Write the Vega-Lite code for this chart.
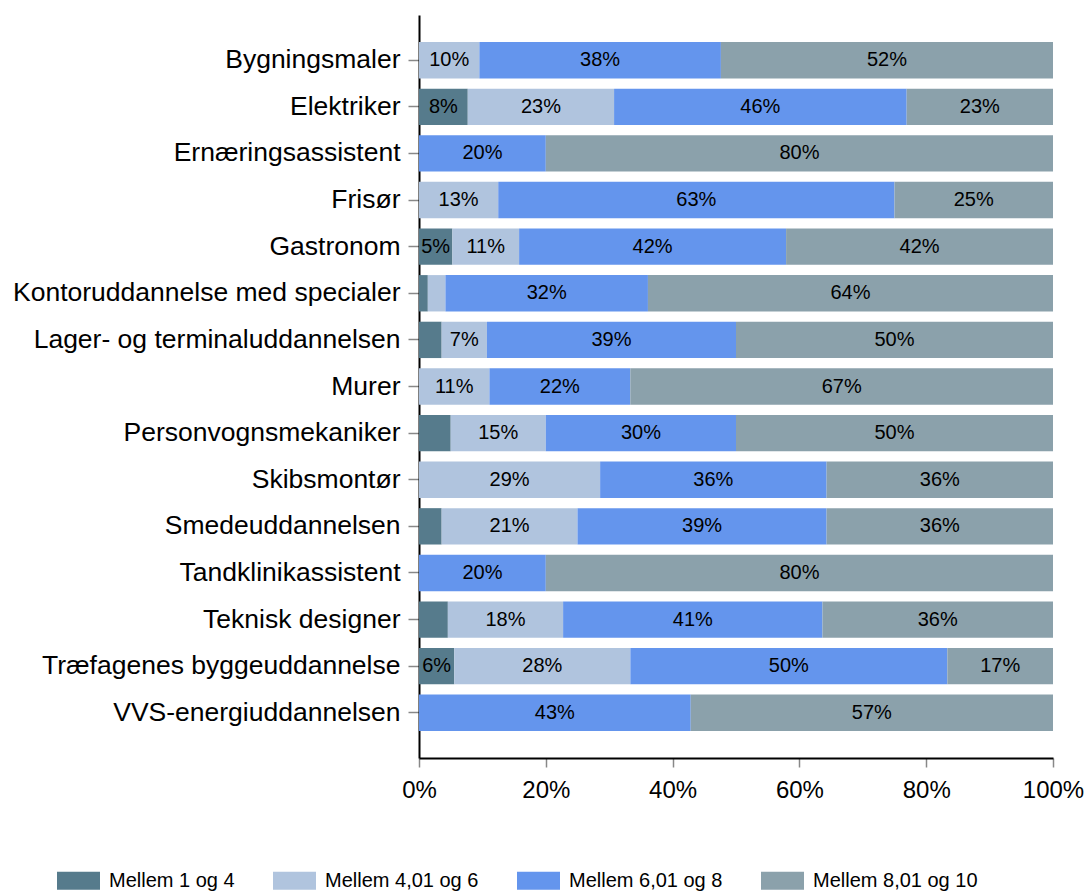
{
  "$schema": "https://vega.github.io/schema/vega-lite/v6.json",
  "width": 634,
  "height": 743,
  "autosize": {"type": "none"},
  "padding": {"left": 419, "top": 15, "right": 38, "bottom": 133},
  "background": "white",
  "config": {
    "font": "Liberation Sans",
    "view": {"stroke": null}
  },
  "data": {
    "values": [
      {"u": "Bygningsmaler", "k": "Mellem 4,01 og 6", "v": 0.0952},
      {"u": "Bygningsmaler", "k": "Mellem 6,01 og 8", "v": 0.381},
      {"u": "Bygningsmaler", "k": "Mellem 8,01 og 10", "v": 0.5238},
      {"u": "Elektriker", "k": "Mellem 1 og 4", "v": 0.0769},
      {"u": "Elektriker", "k": "Mellem 4,01 og 6", "v": 0.2308},
      {"u": "Elektriker", "k": "Mellem 6,01 og 8", "v": 0.4615},
      {"u": "Elektriker", "k": "Mellem 8,01 og 10", "v": 0.2308},
      {"u": "Ernæringsassistent", "k": "Mellem 6,01 og 8", "v": 0.2},
      {"u": "Ernæringsassistent", "k": "Mellem 8,01 og 10", "v": 0.8},
      {"u": "Frisør", "k": "Mellem 4,01 og 6", "v": 0.125},
      {"u": "Frisør", "k": "Mellem 6,01 og 8", "v": 0.625},
      {"u": "Frisør", "k": "Mellem 8,01 og 10", "v": 0.25},
      {"u": "Gastronom", "k": "Mellem 1 og 4", "v": 0.0526},
      {"u": "Gastronom", "k": "Mellem 4,01 og 6", "v": 0.1053},
      {"u": "Gastronom", "k": "Mellem 6,01 og 8", "v": 0.4211},
      {"u": "Gastronom", "k": "Mellem 8,01 og 10", "v": 0.421},
      {"u": "Kontoruddannelse med specialer", "k": "Mellem 1 og 4", "v": 0.0139},
      {"u": "Kontoruddannelse med specialer", "k": "Mellem 4,01 og 6", "v": 0.0278},
      {"u": "Kontoruddannelse med specialer", "k": "Mellem 6,01 og 8", "v": 0.3194},
      {"u": "Kontoruddannelse med specialer", "k": "Mellem 8,01 og 10", "v": 0.6389},
      {"u": "Lager- og terminaluddannelsen", "k": "Mellem 1 og 4", "v": 0.0357},
      {"u": "Lager- og terminaluddannelsen", "k": "Mellem 4,01 og 6", "v": 0.0714},
      {"u": "Lager- og terminaluddannelsen", "k": "Mellem 6,01 og 8", "v": 0.3929},
      {"u": "Lager- og terminaluddannelsen", "k": "Mellem 8,01 og 10", "v": 0.5},
      {"u": "Murer", "k": "Mellem 4,01 og 6", "v": 0.1111},
      {"u": "Murer", "k": "Mellem 6,01 og 8", "v": 0.2222},
      {"u": "Murer", "k": "Mellem 8,01 og 10", "v": 0.6667},
      {"u": "Personvognsmekaniker", "k": "Mellem 1 og 4", "v": 0.05},
      {"u": "Personvognsmekaniker", "k": "Mellem 4,01 og 6", "v": 0.15},
      {"u": "Personvognsmekaniker", "k": "Mellem 6,01 og 8", "v": 0.3},
      {"u": "Personvognsmekaniker", "k": "Mellem 8,01 og 10", "v": 0.5},
      {"u": "Skibsmontør", "k": "Mellem 4,01 og 6", "v": 0.2857},
      {"u": "Skibsmontør", "k": "Mellem 6,01 og 8", "v": 0.3572},
      {"u": "Skibsmontør", "k": "Mellem 8,01 og 10", "v": 0.3571},
      {"u": "Smedeuddannelsen", "k": "Mellem 1 og 4", "v": 0.0357},
      {"u": "Smedeuddannelsen", "k": "Mellem 4,01 og 6", "v": 0.2143},
      {"u": "Smedeuddannelsen", "k": "Mellem 6,01 og 8", "v": 0.3929},
      {"u": "Smedeuddannelsen", "k": "Mellem 8,01 og 10", "v": 0.3571},
      {"u": "Tandklinikassistent", "k": "Mellem 6,01 og 8", "v": 0.2},
      {"u": "Tandklinikassistent", "k": "Mellem 8,01 og 10", "v": 0.8},
      {"u": "Teknisk designer", "k": "Mellem 1 og 4", "v": 0.0455},
      {"u": "Teknisk designer", "k": "Mellem 4,01 og 6", "v": 0.1818},
      {"u": "Teknisk designer", "k": "Mellem 6,01 og 8", "v": 0.4091},
      {"u": "Teknisk designer", "k": "Mellem 8,01 og 10", "v": 0.3636},
      {"u": "Træfagenes byggeuddannelse", "k": "Mellem 1 og 4", "v": 0.0556},
      {"u": "Træfagenes byggeuddannelse", "k": "Mellem 4,01 og 6", "v": 0.2778},
      {"u": "Træfagenes byggeuddannelse", "k": "Mellem 6,01 og 8", "v": 0.5},
      {"u": "Træfagenes byggeuddannelse", "k": "Mellem 8,01 og 10", "v": 0.1666},
      {"u": "VVS-energiuddannelsen", "k": "Mellem 6,01 og 8", "v": 0.4286},
      {"u": "VVS-energiuddannelsen", "k": "Mellem 8,01 og 10", "v": 0.5714}
    ]
  },
  "encoding": {
    "y": {
      "field": "u",
      "type": "nominal",
      "sort": null,
      "scale": {"paddingInner": 0.22, "paddingOuter": 0.58},
      "axis": {
        "title": null,
        "domainColor": "black",
        "domainWidth": 2,
        "tickColor": "#888888",
        "tickWidth": 1.5,
        "tickSize": 11,
        "labelFontSize": 26.5,
        "labelColor": "black",
        "labelPadding": 8,
        "labelLimit": 600
      }
    }
  },
  "layer": [
    {
      "mark": {"type": "bar"},
      "encoding": {
        "x": {
          "field": "v",
          "type": "quantitative",
          "stack": "zero",
          "scale": {"domain": [0, 1], "nice": false, "clamp": true},
          "axis": {
            "title": null,
            "format": ".0%",
            "values": [0, 0.2, 0.4, 0.6, 0.8, 1],
            "grid": false,
            "domainColor": "black",
            "domainWidth": 2,
            "tickColor": "#888888",
            "tickWidth": 1.5,
            "tickSize": 9,
            "labelFontSize": 24,
            "labelColor": "black",
            "labelPadding": 11,
            "labelFlush": false
          }
        },
        "order": {"field": "k", "type": "ordinal", "sort": "ascending"},
        "color": {
          "field": "k",
          "type": "nominal",
          "scale": {
            "domain": ["Mellem 1 og 4", "Mellem 4,01 og 6", "Mellem 6,01 og 8", "Mellem 8,01 og 10"],
            "range": ["#567B8C", "#B0C4DE", "#6495ED", "#8BA1AB"]
          },
          "legend": {
            "title": null,
            "orient": "none",
            "legendX": -362,
            "legendY": 844,
            "direction": "horizontal",
            "columns": 4,
            "symbolType": "M-1,-0.42H1V0.42H-1Z",
            "symbolSize": 1849,
            "symbolStrokeWidth": 0,
            "symbolOpacity": 1,
            "labelFontSize": 20,
            "labelColor": "black",
            "labelOffset": 9,
            "columnPadding": 38,
            "labelLimit": 400
          }
        }
      }
    },
    {
      "mark": {"type": "text", "fontSize": 20, "color": "black", "align": "center", "baseline": "middle"},
      "encoding": {
        "x": {"field": "v", "type": "quantitative", "stack": "zero", "bandPosition": 0.5},
        "detail": {"field": "k", "type": "nominal"},
        "order": {"field": "k", "type": "ordinal", "sort": "ascending"},
        "text": {
          "condition": {"test": "datum.v > 0.05", "field": "v", "type": "quantitative", "format": ".0%"},
          "value": ""
        }
      }
    }
  ]
}
